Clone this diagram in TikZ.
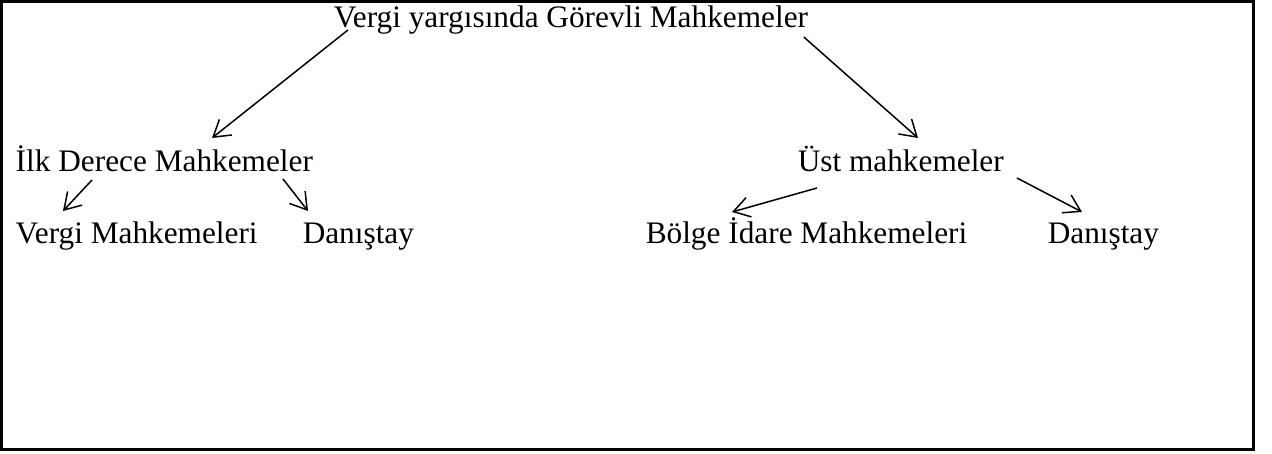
\documentclass[tikz,border=0pt]{standalone}
\usepackage{fontspec}
\setmainfont{Liberation Serif}
\usetikzlibrary{arrows.meta}

\begin{document}
\begin{tikzpicture}[x=1pt,y=-1pt,
		every node/.style={font=\fontsize{31.3}{36}\selectfont,inner sep=0pt,anchor=base west},
		every path/.style={line width=1.5pt},
		>={Straight Barb[length=16pt,width=20pt]}]
			\useasboundingbox (0,0) rectangle (1272,454);
			\draw[line width=3pt] (1.5,1.5) rectangle (1253.5,449.5);

			\node at (333, 28)  (courts)   {Vergi yargısında Görevli Mahkemeler};
			\node at ( 15,172)  (first)    {İlk Derece Mahkemeler};
			\node at (797,172)  (upper)    {Üst mahkemeler};
			\node at ( 15,244)  (tax)      {Vergi Mahkemeleri};
			\node at (302,244)  (council_a){Danıştay};
			\node at (645,244)  (regional) {Bölge İdare Mahkemeleri};
			\node at (1047,244) (council_b){Danıştay};

			\draw[->] ([xshift=15pt,yshift=-2pt]courts.base west) -- ([xshift=197pt,yshift=34pt]first.base west);
			\draw[->] ([xshift=-5pt,yshift=-9pt]courts.base east) -- ([xshift=121pt,yshift=34pt]upper.base west);
			\draw[->] ([xshift=77pt,yshift=-8pt]first.base west)  -- ([xshift=48pt,yshift=33pt]tax.base west);
			\draw[->] ([xshift=268pt,yshift=-7pt]first.base west) -- ([xshift=6pt,yshift=33pt]council_a.base west);
			\draw[->] ([xshift=20pt,yshift=-16pt]upper.base west) -- ([xshift=87pt,yshift=32pt]regional.base west);
			\draw[->] ([xshift=220pt,yshift=-6pt]upper.base west) -- ([xshift=35pt,yshift=32pt]council_b.base west);
		\end{tikzpicture}
\end{document}
